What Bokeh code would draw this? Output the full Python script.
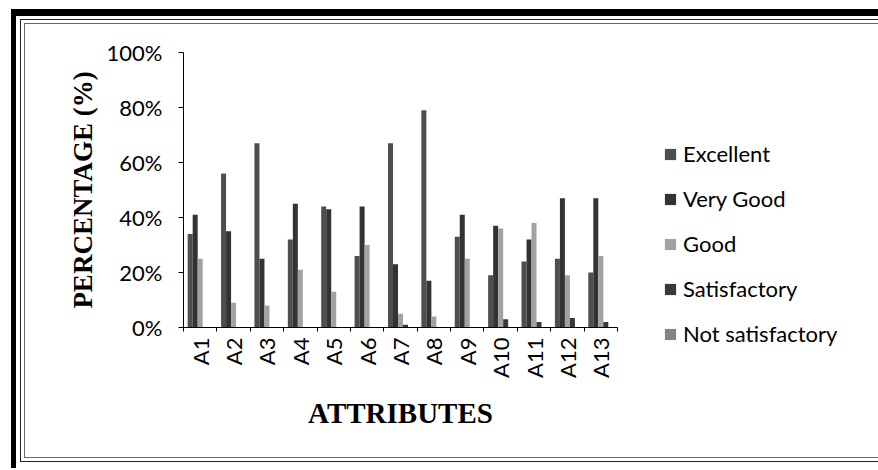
from math import pi
from bokeh.plotting import figure
from bokeh.models import (FixedTicker, PrintfTickFormatter, Legend, LegendItem,
                          Range1d, ColumnDataSource)
from bokeh.embed import file_html
from bokeh.resources import INLINE

attributes = ["A1", "A2", "A3", "A4", "A5", "A6", "A7", "A8", "A9", "A10", "A11", "A12", "A13"]
series_names = ["Excellent", "Very Good", "Good", "Satisfactory", "Not satisfactory"]
excellent = [34, 56, 67, 32, 44, 26, 67, 79, 33, 19, 24, 25, 20]
very_good = [41, 35, 25, 45, 43, 44, 23, 17, 41, 37, 32, 47, 47]
good = [25, 9, 8, 21, 13, 30, 5, 4, 25, 36, 38, 19, 26]
satisfactory = [0, 0, 0, 0, 0, 0, 1, 0, 0, 3, 2, 3.5, 2]
not_satisfactory = [0, 0, 0, 0, 0, 0, 0, 0, 0, 0, 0, 0, 0]
y_ticks = [0, 20, 40, 60, 80, 100]

series = [excellent, very_good, good, satisfactory, not_satisfactory]
colors = ["#4e4e4e", "#333333", "#a2a2a2", "#393939", "#858585"]

FONT = "Lato"
SERIF = "Liberation Serif"

W, H = 876, 468
FL, FT, FW, FH = 183, 52, 434, 275

p = figure(frame_width=FW, frame_height=FH,
           min_border_left=FL, min_border_right=W - FL - FW,
           min_border_top=FT, min_border_bottom=H - FT - FH,
           x_range=Range1d(-0.5, len(attributes) - 0.5), y_range=Range1d(0, 100),
           output_backend="svg", toolbar_location=None)

bar_w = 0.15
items = []
for k, (name, vals) in enumerate(zip(series_names, series)):
    xs = [i + (k - 2) * bar_w for i in range(len(attributes))]
    src = ColumnDataSource(dict(x=xs, top=vals))
    r = p.vbar(x="x", top="top", bottom=0, width=bar_w, source=src,
               fill_color=colors[k], line_color=None)
    items.append(LegendItem(label=name, renderers=[r]))

p.xgrid.visible = False
p.ygrid.visible = False
p.outline_line_color = None
p.background_fill_color = "white"
p.border_fill_alpha = 0

# x axis
xa = p.xaxis[0]
xa.ticker = FixedTicker(ticks=list(range(len(attributes))),
                        minor_ticks=[i - 0.5 for i in range(len(attributes) + 1)])
xa.major_label_overrides = {i: a for i, a in enumerate(attributes)}
xa.major_label_orientation = pi / 2
xa.major_tick_out = 0
xa.major_tick_in = 0
xa.minor_tick_out = 4
xa.minor_tick_in = 0
xa.major_label_standoff = 6
xa.major_label_text_font = FONT
xa.major_label_text_font_size = "22px"
xa.major_label_text_color = "black"
xa.axis_line_color = "black"
xa.axis_label = "ATTRIBUTES"
xa.axis_label_text_font = SERIF
xa.axis_label_text_font_style = "bold"
xa.axis_label_text_font_size = "29px"
xa.axis_label_text_color = "black"
xa.axis_label_standoff = 16

# y axis
ya = p.yaxis[0]
ya.ticker = FixedTicker(ticks=y_ticks)
ya.formatter = PrintfTickFormatter(format="%d%%")
ya.major_tick_out = 5
ya.major_tick_in = 0
ya.minor_tick_out = 0
ya.minor_tick_in = 0
ya.major_label_standoff = 16
ya.major_label_text_font = FONT
ya.major_label_text_font_size = "22px"
ya.major_label_text_color = "black"
ya.axis_line_color = "black"
ya.axis_label = "PERCENTAGE (%)"
ya.axis_label_text_font = SERIF
ya.axis_label_text_font_style = "bold"
ya.axis_label_text_font_size = "27px"
ya.axis_label_text_color = "black"
ya.axis_label_standoff = 6

legend = Legend(items=items, location=(46, -20), orientation="vertical",
                glyph_width=14, glyph_height=14, label_height=22,
                label_standoff=6, spacing=18, padding=0, margin=0,
                label_text_font=FONT, label_text_font_size="22px",
                label_text_color="black", border_line_color=None,
                background_fill_alpha=0)
p.add_layout(legend, "right")

# decorative double frame with a heavy black edge, drawn as CSS inset shadows
shadows = [
    "inset 0 9px 0 0 #fff", "inset 11px 0 0 0 #fff", "inset -3px 0 0 0 #fff",
    "inset 0 16px 0 0 #000", "inset 16px 0 0 0 #000", "inset -10px 0 0 0 #000",
    "inset 0 19px 0 0 #fff", "inset 20px 0 0 0 #fff", "inset -13px 0 0 0 #fff", "inset 0 -6px 0 0 #fff",
    "inset 0 20px 0 0 #222", "inset 21px 0 0 0 #222", "inset -14px 0 0 0 #222", "inset 0 -7px 0 0 #222",
    "inset 0 23px 0 0 #fff", "inset 24px 0 0 0 #fff", "inset -17px 0 0 0 #fff", "inset 0 -10px 0 0 #fff",
    "inset 0 24px 0 0 #666", "inset 25px 0 0 0 #666", "inset -18px 0 0 0 #666", "inset 0 -11px 0 0 #666",
]
p.styles = {"box-shadow": ", ".join(shadows), "background-color": "white"}

open("out.html", "w").write(file_html(p, INLINE))
